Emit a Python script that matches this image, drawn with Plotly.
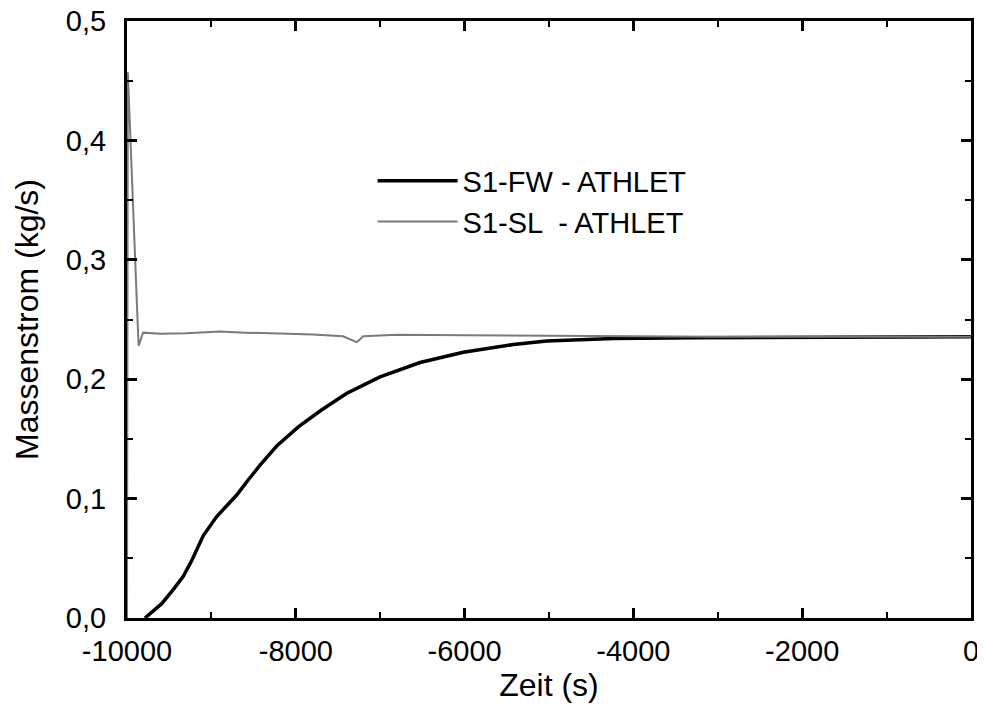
import plotly.graph_objects as go

# S1-FW - ATHLET (black, thick)
fw_t = [-9787, -9700, -9589, -9450, -9333, -9234, -9096, -8937, -8820, -8700,
        -8560, -8424, -8226, -7970, -7700, -7400, -7002, -6528, -6015, -5423,
        -5028, -4238, -3250, -2000, -1000, 0]
fw_m = [0.0, 0.005, 0.012, 0.024, 0.035, 0.048, 0.069, 0.085, 0.094, 0.103,
        0.116, 0.128, 0.144, 0.160, 0.174, 0.188, 0.202, 0.214, 0.2226, 0.229,
        0.232, 0.234, 0.2347, 0.235, 0.2352, 0.2355]

# S1-SL - ATHLET (grey, thin)
sl_t = [-10000, -9990, -9880, -9862, -9810, -9600, -9300, -9000, -8898, -8600,
        -8200, -7800, -7440, -7278, -7200, -6800, -6000, -5000, -4000, -3000,
        -2000, -1000, 0]
sl_m = [0.0, 0.457, 0.258, 0.228, 0.239, 0.238, 0.2385, 0.2395, 0.240, 0.239,
        0.2385, 0.2375, 0.236, 0.231, 0.236, 0.2372, 0.2368, 0.2362, 0.2358,
        0.2356, 0.2355, 0.2355, 0.2355]

x_tickvals = [-10000, -8000, -6000, -4000, -2000, 0]
x_ticktext = ["-10000", "-8000", "-6000", "-4000", "-2000", "0"]
y_tickvals = [0.0, 0.1, 0.2, 0.3, 0.4, 0.5]
y_ticktext = ["0,0", "0,1", "0,2", "0,3", "0,4", "0,5"]

FONT = "Liberation Sans, Arial, Helvetica, sans-serif"
FS = 29
TFS = 32

fig = go.Figure()
fig.add_trace(go.Scatter(x=fw_t, y=fw_m, mode="lines", name="S1-FW - ATHLET",
                         line=dict(color="black", width=3.5)))
fig.add_trace(go.Scatter(x=sl_t, y=sl_m, mode="lines", name="S1-SL  - ATHLET",
                         line=dict(color="#7a7a7a", width=2)))

axis_common = dict(showline=True, linecolor="black", linewidth=3, mirror="ticks",
                   ticks="inside", ticklen=10, tickwidth=2.5, tickcolor="black",
                   showgrid=False, zeroline=False, automargin=False,
                   ticklabeloverflow="allow",
                   tickfont=dict(family=FONT, size=FS, color="black"),
                   title_font=dict(family=FONT, size=TFS, color="black"))

fig.update_xaxes(range=[-10000, 0], tickvals=x_tickvals, ticktext=x_ticktext,
                 minor=dict(ticks="inside", ticklen=6, tickwidth=2, dtick=1000,
                            tickcolor="black"),
                 ticklabelstandoff=5,
                 title_text="Zeit (s)", title_standoff=1, **axis_common)
fig.update_yaxes(range=[0, 0.5], tickvals=y_tickvals, ticktext=y_ticktext,
                 minor=dict(ticks="inside", ticklen=6, tickwidth=2, dtick=0.05,
                            tickcolor="black"),
                 ticklabelstandoff=12,
                 title_text="Massenstrom (kg/s)", title_standoff=18, **axis_common)

# The page body adds an 8 px offset, so the figure is 8 px smaller and the
# left/top margins are reduced by 8 px to keep the frame in place on screen.
fig.update_layout(
    width=977, height=703,
    margin=dict(l=119, r=14, t=13, b=93),
    plot_bgcolor="white", paper_bgcolor="white",
    font=dict(family=FONT, size=FS, color="black"),
    legend=dict(x=0.291, y=0.775, xanchor="left", yanchor="top",
                bgcolor="rgba(0,0,0,0)", font=dict(family=FONT, size=29),
                tracegroupgap=0, itemwidth=80),
    showlegend=True,
)

fig.write_html("out.html")
